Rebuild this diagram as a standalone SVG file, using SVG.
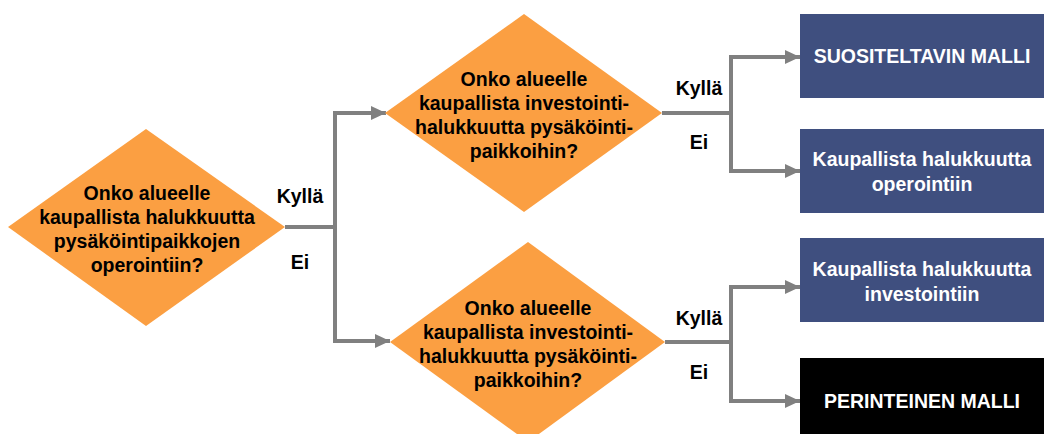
<svg xmlns="http://www.w3.org/2000/svg" width="1044" height="434" viewBox="0 0 1044 434">
<style>
.dia{fill:#FB9F42}
.box{fill:#3F4F7F}
.blk{fill:#000}
.t{font-family:"Liberation Sans",Arial,sans-serif;font-weight:bold;font-size:19.5px;text-anchor:middle}
.dk{fill:#000}
.wh{fill:#fff}
.con{fill:none;stroke:#808080;stroke-width:4}
</style>
<defs>
<marker id="ah" markerWidth="15" markerHeight="14" refX="15" refY="7" orient="auto" markerUnits="userSpaceOnUse" viewBox="0 0 15 14">
<path d="M0,0 L15,7 L0,14 Z" fill="#808080"/>
</marker>
</defs>
<g id="connectors">
<path class="con" d="M285,227 H335"/>
<path class="con" d="M335,111 V343"/>
<path class="con" d="M333,113 H386" marker-end="url(#ah)"/>
<path class="con" d="M333,341 H390" marker-end="url(#ah)"/>
<path class="con" d="M662,113 H731"/>
<path class="con" d="M731,55 V173"/>
<path class="con" d="M729,57 H800" marker-end="url(#ah)"/>
<path class="con" d="M729,171 H800" marker-end="url(#ah)"/>
<path class="con" d="M665,342 H731"/>
<path class="con" d="M731,285 V403"/>
<path class="con" d="M729,287 H800" marker-end="url(#ah)"/>
<path class="con" d="M729,401 H800" marker-end="url(#ah)"/>
<text class="t dk" x="300" y="203">Kyllä</text>
<text class="t dk" x="300" y="269">Ei</text>
<text class="t dk" x="699" y="95">Kyllä</text>
<text class="t dk" x="699" y="149">Ei</text>
<text class="t dk" x="699" y="325">Kyllä</text>
<text class="t dk" x="699" y="379">Ei</text>
</g>
<g id="q1">
<polygon class="dia" points="8,227 146,129 285,227 146,326"/>
<text class="t dk" x="147" y="200">Onko alueelle</text>
<text class="t dk" x="147" y="224">kaupallista halukkuutta</text>
<text class="t dk" x="147" y="248">pysäköintipaikkojen</text>
<text class="t dk" x="147" y="272">operointiin?</text>
</g>
<g id="q2">
<polygon class="dia" points="385,113 524,14 662,113 524,212"/>
<text class="t dk" x="524" y="86">Onko alueelle</text>
<text class="t dk" x="524" y="110">kaupallista investointi-</text>
<text class="t dk" x="524" y="134">halukkuutta pysäköinti-</text>
<text class="t dk" x="524" y="158">paikkoihin?</text>
</g>
<g id="q3">
<polygon class="dia" points="390,342 528,242 665,342 528,442"/>
<text class="t dk" x="528" y="315">Onko alueelle</text>
<text class="t dk" x="528" y="339">kaupallista investointi-</text>
<text class="t dk" x="528" y="363">halukkuutta pysäköinti-</text>
<text class="t dk" x="528" y="387">paikkoihin?</text>
</g>
<g id="r1">
<rect class="box" x="800" y="14" width="244" height="84"/>
<text class="t wh" x="922" y="63">SUOSITELTAVIN MALLI</text>
</g>
<g id="r2">
<rect class="box" x="800" y="129" width="244" height="84"/>
<text class="t wh" x="922" y="166">Kaupallista halukkuutta</text>
<text class="t wh" x="922" y="191">operointiin</text>
</g>
<g id="r3">
<rect class="box" x="800" y="238" width="244" height="84"/>
<text class="t wh" x="922" y="276">Kaupallista halukkuutta</text>
<text class="t wh" x="922" y="301">investointiin</text>
</g>
<g id="r4">
<rect class="blk" x="800" y="358" width="244" height="76"/>
<text class="t wh" x="922" y="408">PERINTEINEN MALLI</text>
</g>
</svg>
